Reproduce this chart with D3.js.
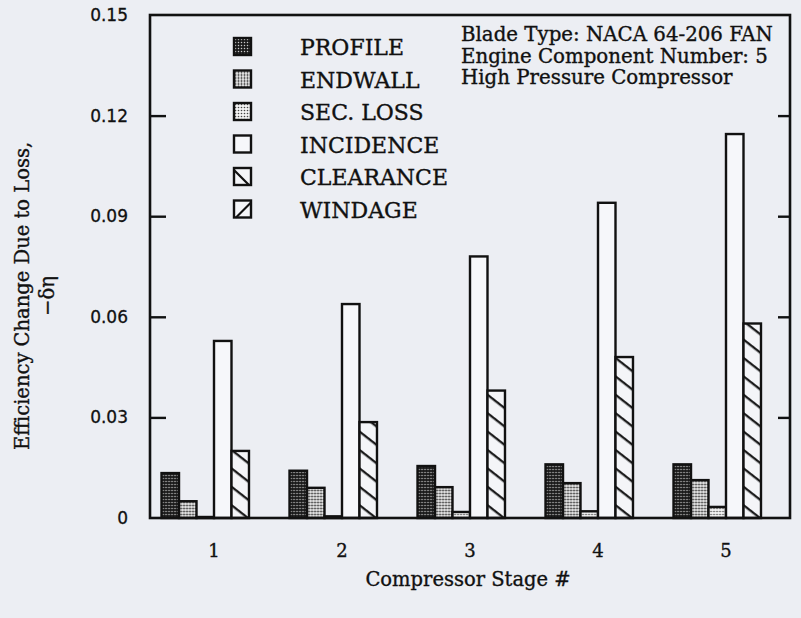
<!DOCTYPE html>
<html><head><meta charset="utf-8">
<script src="https://cdn.jsdelivr.net/npm/d3@7"></script>
<style>body{margin:0;background:#eceef3;overflow:hidden}</style>
</head><body><svg id="c" width="801" height="618"></svg>
<script>
const stages = ["1","2","3","4","5"];
const seriesNames = ["PROFILE","ENDWALL","SEC. LOSS","INCIDENCE","CLEARANCE","WINDAGE"];
const profile   = [0.0134, 0.0141, 0.0155, 0.0160, 0.0160];
const endwall   = [0.0050, 0.0090, 0.0092, 0.0104, 0.0113];
const secLoss   = [0.0003, 0.0005, 0.0018, 0.0020, 0.0033];
const incidence = [0.0528, 0.0638, 0.0780, 0.0940, 0.1145];
const clearance = [0.0200, 0.0286, 0.0380, 0.0480, 0.0580];
const windage   = [0, 0, 0, 0, 0];
const yTicks = [0, 0.03, 0.06, 0.09, 0.12, 0.15];
const yTickLabels = ["0", "0.03", "0.06", "0.09", "0.12", "0.15"];
const annotation = ["Blade Type: NACA 64-206 FAN", "Engine Component Number: 5", "High Pressure Compressor"];
const xTitle = "Compressor Stage #";
const yTitle = "Efficiency Change Due to Loss,";
const yTitle2 = "\u2212\u03b4\u03b7";

const seriesValues = [profile, endwall, secLoss, incidence, clearance, windage];
const table = stages.map((s, i) => ({stage: s, values: seriesNames.map((n, k) => ({name: n, value: seriesValues[k][i]}))}));

const L = 150, R = 790, T = 15, B = 518;
const svg = d3.select("#c");
const serif = "'DejaVu Serif', serif";
const ink = "#111";

const x0 = d3.scaleBand().domain(stages).range([L, R]).paddingInner(0.18).paddingOuter(0.09);
const x1 = d3.scaleBand().domain(seriesNames).range([0, x0.bandwidth()]);
const y = d3.scaleLinear().domain([0, 0.15]).range([B, T]);

// patterns
const defs = svg.append("defs");
function dots(id, bg, fg, r) {
  const p = defs.append("pattern").attr("id", id).attr("patternUnits", "userSpaceOnUse").attr("width", 3).attr("height", 3);
  p.append("rect").attr("width", 3).attr("height", 3).attr("fill", bg);
  p.append("circle").attr("cx", 1.5).attr("cy", 1.5).attr("r", r).attr("fill", fg);
}
dots("pProfile", "#1a1a1a", "#c8c8c8", 0.75);
dots("pEndwall", "#eeeeee", "#2a2a2a", 1.0);
dots("pSec", "#f2f2f2", "#444", 0.8);
function hatch(id, angle) {
  const p = defs.append("pattern").attr("id", id).attr("patternUnits", "userSpaceOnUse")
    .attr("width", 10).attr("height", 14.5).attr("patternTransform", `rotate(${angle})`);
  p.append("rect").attr("width", 10).attr("height", 14.5).attr("fill", "#f4f5f8");
  p.append("line").attr("x1", -1).attr("x2", 11).attr("y1", 7).attr("y2", 7).attr("stroke", ink).attr("stroke-width", 2.2);
}
hatch("pClear", 38);
hatch("pWind", -38);
const fills = {"PROFILE": "url(#pProfile)", "ENDWALL": "url(#pEndwall)", "SEC. LOSS": "url(#pSec)", "INCIDENCE": "#f6f7fa", "CLEARANCE": "url(#pClear)", "WINDAGE": "url(#pWind)"};

// bars
const g = svg.append("g");
g.selectAll("g.grp").data(table).join("g").attr("class", "grp")
  .attr("transform", d => `translate(${x0(d.stage)},0)`)
  .selectAll("rect").data(d => d.values).join("rect")
  .attr("x", d => x1(d.name)).attr("width", x1.bandwidth())
  .attr("y", d => y(d.value)).attr("height", d => B - y(d.value))
  .attr("fill", d => fills[d.name]).attr("stroke", ink).attr("stroke-width", 2.4);

// frame
svg.append("rect").attr("x", L).attr("y", T).attr("width", R - L).attr("height", B - T)
  .attr("fill", "none").attr("stroke", ink).attr("stroke-width", 2.6);

// inward ticks on both sides
const yAxisL = d3.axisRight(y).tickValues(yTicks.slice(1, -1)).tickSize(16).tickFormat("");
const ga = svg.append("g").attr("transform", `translate(${L},0)`).call(yAxisL);
ga.select(".domain").remove();
ga.selectAll(".tick line").attr("stroke", ink).attr("stroke-width", 2.4);
const yAxisR = d3.axisLeft(y).tickValues(yTicks.slice(1, -1)).tickSize(12).tickFormat("");
const gr = svg.append("g").attr("transform", `translate(${R},0)`).call(yAxisR);
gr.select(".domain").remove();
gr.selectAll(".tick line").attr("stroke", ink).attr("stroke-width", 2.4);

svg.append("g").selectAll("text").data(yTicks).join("text")
  .attr("x", 128).attr("y", d => y(d) + 6)
  .attr("text-anchor", "end").attr("font-family", "'DejaVu Sans', sans-serif").attr("font-size", 17)
  .attr("fill", ink).attr("stroke", ink).attr("stroke-width", 0.3).text((d, i) => yTickLabels[i]);

function serifText(sel, size) {
  return sel.attr("font-family", serif).attr("font-size", size).attr("fill", ink)
    .attr("stroke", ink).attr("stroke-width", 0.35);
}

// x labels
serifText(svg.append("g").selectAll("text").data(stages).join("text")
  .attr("x", d => x0(d) + x0.bandwidth() / 2).attr("y", 557)
  .attr("text-anchor", "middle"), 18).text(d => d);
serifText(svg.append("text").attr("x", 468).attr("y", 586).attr("text-anchor", "middle"), 19.5).text(xTitle);

// y titles
serifText(svg.append("text").attr("transform", "translate(29,296) rotate(-90)").attr("text-anchor", "middle"), 19.5).text(yTitle);
serifText(svg.append("text").attr("transform", "translate(54,296) rotate(-90)").attr("text-anchor", "middle"), 19.5).text(yTitle2);

// annotation
serifText(svg.append("g").selectAll("text").data(annotation).join("text")
  .attr("x", 461).attr("y", (d, i) => 41 + i * 21.5), 19.8).text(d => d);

// legend
const leg = svg.append("g").selectAll("g").data(seriesNames).join("g")
  .attr("transform", (d, i) => `translate(234,${38 + i * 32.5})`);
leg.append("rect").attr("width", 17).attr("height", 17).attr("fill", d => d === "CLEARANCE" || d === "WINDAGE" ? "#f4f5f8" : fills[d])
  .attr("stroke", ink).attr("stroke-width", 2.4);
leg.filter(d => d === "CLEARANCE").append("line").attr("x1", 0).attr("y1", 2).attr("x2", 15).attr("y2", 17).attr("stroke", ink).attr("stroke-width", 2.2);
leg.filter(d => d === "WINDAGE").append("line").attr("x1", 2).attr("y1", 17).attr("x2", 17).attr("y2", 2).attr("stroke", ink).attr("stroke-width", 2.2);
serifText(leg.append("text").attr("x", 66).attr("y", 17), 22).text(d => d);
</script></body></html>
